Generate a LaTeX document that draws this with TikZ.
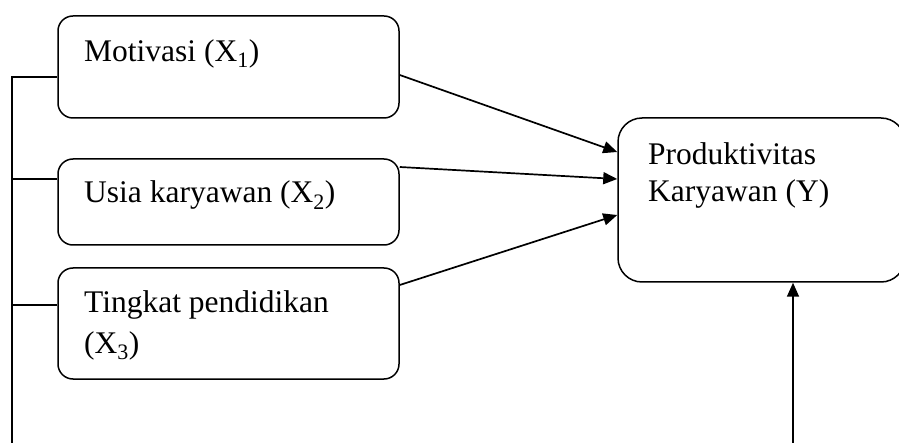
\documentclass[tikz,border=0pt]{standalone}
\usepackage{fontspec}
\setmainfont{Liberation Serif}
\usetikzlibrary{arrows.meta}
\begin{document}
\begin{tikzpicture}[x=1pt,y=-1pt,
  box/.style={draw,line width=1.5pt,rounded corners=15pt,inner sep=0pt},
  ybox/.style={draw,line width=1.5pt,rounded corners=24pt,inner sep=0pt},
  lbl/.style={anchor=base west,inner sep=0pt,font=\fontsize{31.5}{40}\selectfont},
  conn/.style={line width=1.5pt},
  arr/.style={line width=1.7pt,-{Triangle[length=14pt,width=12pt]}}]
\useasboundingbox (0,0) rectangle (899,443);
\node[box,minimum width=341pt,minimum height=102pt] (X1) at (228.5,67) {};
\node[box,minimum width=341pt,minimum height=86pt] (X2) at (228.5,202) {};
\node[box,minimum width=341pt,minimum height=111pt] (X3) at (228.5,323.5) {};
\node[ybox,minimum width=287pt,minimum height=164pt] (Y) at (761.5,200) {};
\node[lbl] (t1) at (84,62) {Motivasi (X\textsubscript{1})};
\node[lbl] (t2) at (84,203) {Usia karyawan (X\textsubscript{2})};
\node[lbl] (t3a) at (84,313) {Tingkat pendidikan};
\node[lbl] (t3b) at (84,353) {(X\textsubscript{3})};
\node[lbl] (ty1) at (648,165) {Produktivitas};
\node[lbl] (ty2) at (648,202) {Karyawan (Y)};
% arrows to Y
\draw[arr] ([yshift=-8pt]X1.east) -- ([yshift=48pt]Y.west);
\draw[arr] ([yshift=35pt]X2.east) -- ([yshift=21pt]Y.west);
\draw[arr] ([yshift=38.5pt]X3.east) -- ([yshift=-15pt]Y.west);
\coordinate (vb) at (793,443);
\draw[arr] (vb) -- ([xshift=31.5pt]Y.south);
% left bracket line
\coordinate (lt) at (12,77);
\coordinate (lb) at (12,443);
\coordinate (c1) at ([yshift=-10pt]X1.west);
\coordinate (c2) at ([yshift=23pt]X2.west);
\coordinate (c3) at ([yshift=18.5pt]X3.west);
\draw[conn] (lb) -- (lt) -- (c1);
\draw[conn] (c2 -| lb) -- (c2);
\draw[conn] (c3 -| lb) -- (c3);
\end{tikzpicture}
\end{document}
